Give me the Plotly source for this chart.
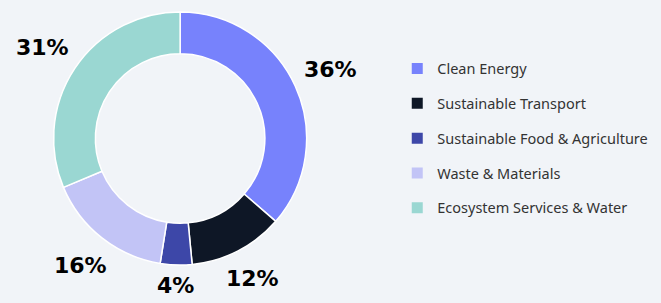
import math
import plotly.graph_objects as go

categories = ["Clean Energy", "Sustainable Transport", "Sustainable Food & Agriculture",
              "Waste & Materials", "Ecosystem Services & Water"]
shares = [36, 12, 4, 16, 31]
colors = ["#7782FC", "#0E1726", "#3D47A8", "#C2C4F6", "#9AD7D2"]

W, H = 661, 303
M_T, M_B = 12, 38
DOM_X = [0, 0.545]
LABEL_SIZE = 22

fig = go.Figure(go.Pie(
    labels=categories,
    values=shares,
    sort=False,
    direction="clockwise",
    rotation=0,
    hole=0.67,
    marker=dict(colors=colors, line=dict(color="#FFFFFF", width=1.5)),
    textinfo="none",
    domain=dict(x=DOM_X, y=[0, 1]),
    showlegend=False,
))

# percentage labels placed radially outside each slice (angles from the data)
plot_h = H - M_T - M_B
r_out = plot_h / 2
cx = (DOM_X[0] + DOM_X[1]) / 2
total = sum(shares)
cum = 0
for v in shares:
    mid = (cum + v / 2) / total * 2 * math.pi
    cum += v
    txt = f"{v}%"
    tw = LABEL_SIZE * (0.696 * (len(txt) - 1) + 1.0)
    th = LABEL_SIZE * 0.73
    s, c = math.sin(mid), math.cos(mid)
    r = r_out + 12 + abs(s) * tw / 2 + abs(c) * th / 2
    fig.add_annotation(
        x=cx + r * s / W, y=0.5 + r * c / plot_h, xref="paper", yref="paper",
        text=f"<b>{txt}</b>", showarrow=False, xanchor="center", yanchor="middle",
        font=dict(family="DejaVu Sans", size=LABEL_SIZE, color="#000000"),
    )

# legend entries (no data points; used only so the legend spacing can be set)
for name, col in zip(categories, colors):
    fig.add_trace(go.Scatter(
        x=[None], y=[None], mode="markers", name=name, legendgroup=name,
        marker=dict(symbol="square", size=11, color=col),
        showlegend=True,
    ))

fig.update_xaxes(visible=False)
fig.update_yaxes(visible=False)

fig.update_layout(
    width=W, height=H,
    paper_bgcolor="#F1F4F8",
    plot_bgcolor="#F1F4F8",
    margin=dict(l=0, r=0, t=M_T, b=M_B, autoexpand=False),
    showlegend=True,
    legend=dict(x=0.601, y=0.5, xanchor="left", yanchor="middle",
                font=dict(family="Noto Sans", size=14.5, color="#333333"),
                tracegroupgap=13, itemwidth=30,
                bgcolor="rgba(0,0,0,0)"),
)

fig.write_html("out.html", config={"displayModeBar": False},
               post_script="document.body.style.margin='0';window.dispatchEvent(new Event('resize'));")
